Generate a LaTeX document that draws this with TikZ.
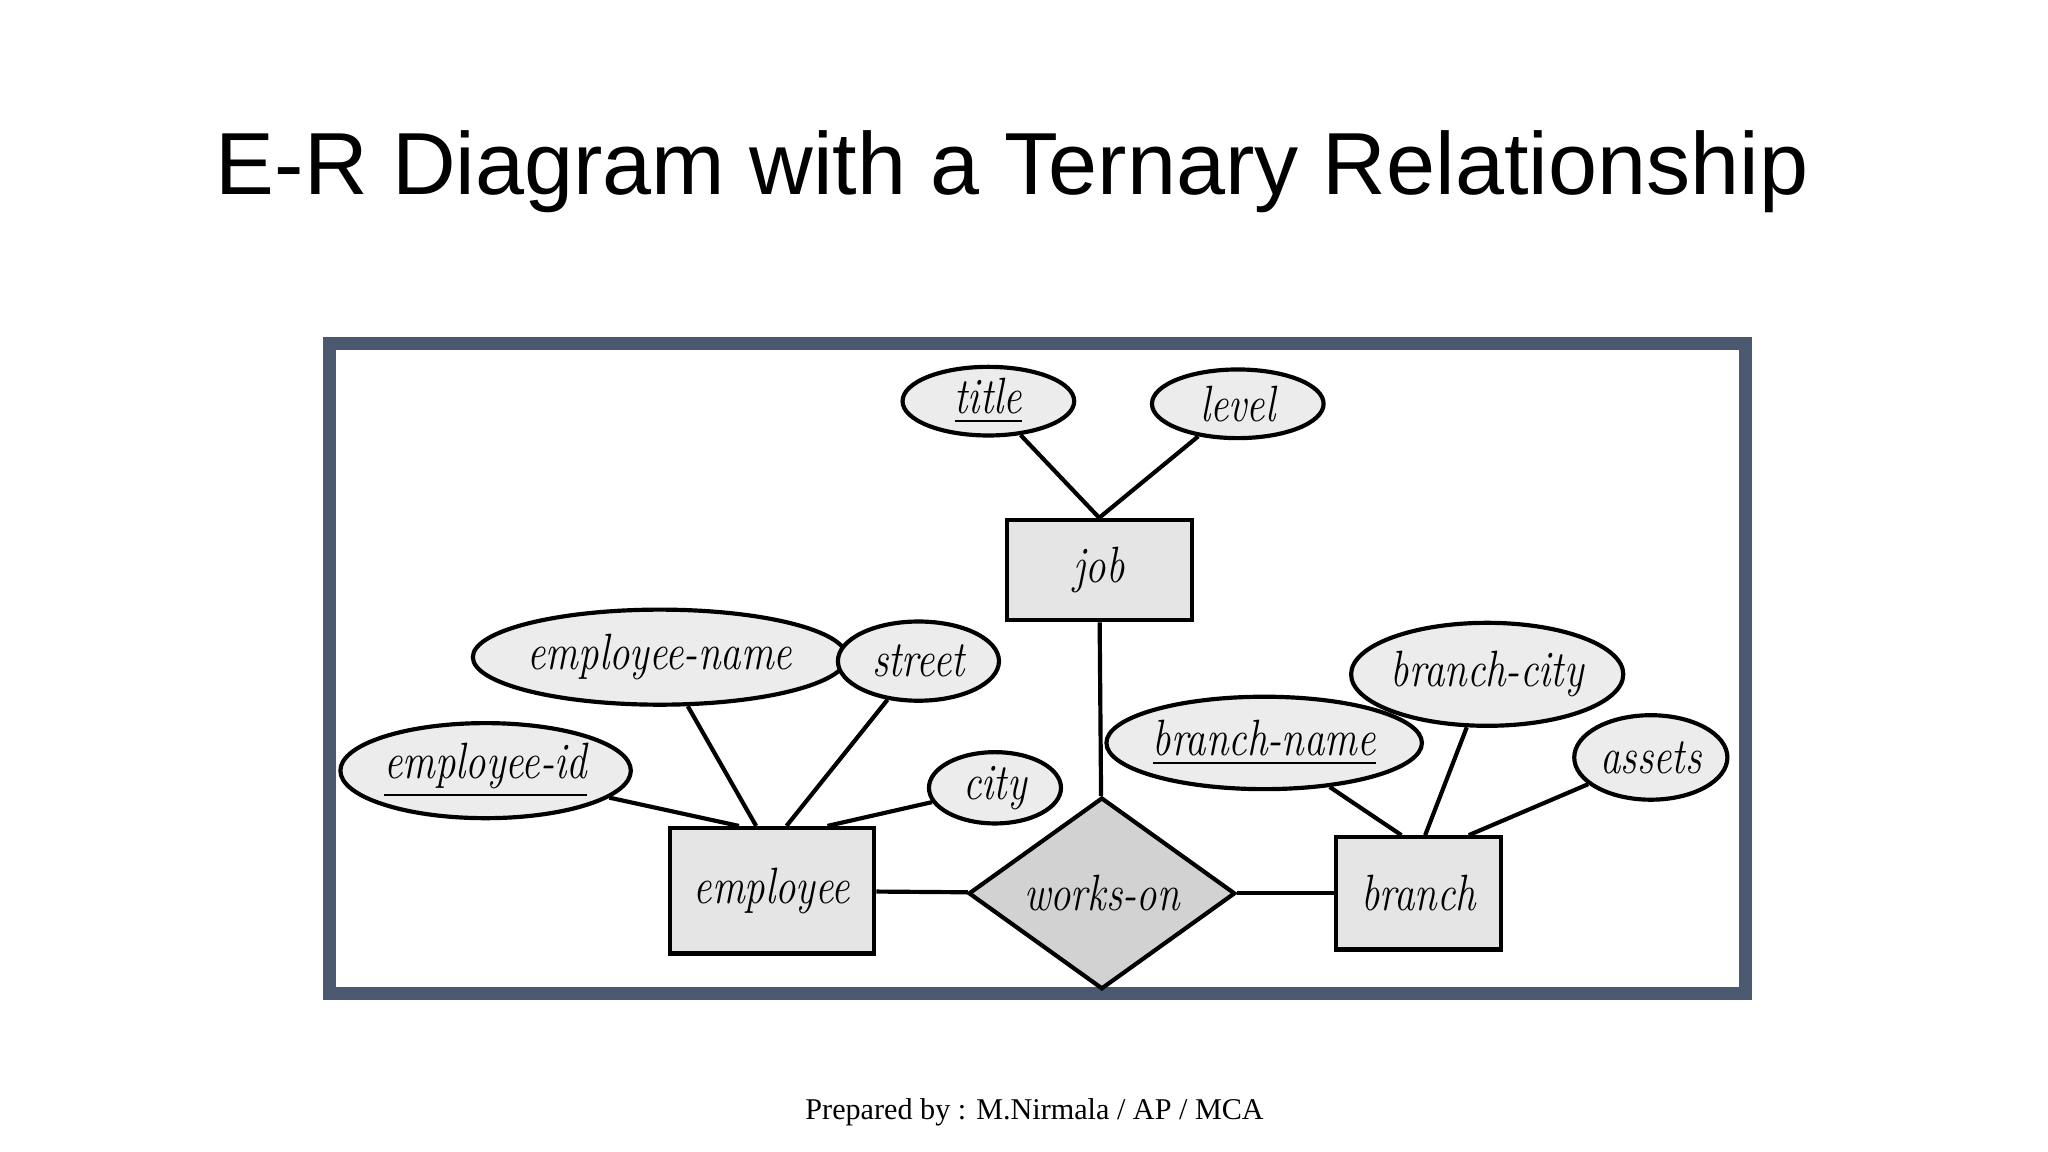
\documentclass[tikz,border=0pt]{standalone}
\usepackage{fontspec}
\usetikzlibrary{shapes.geometric}
\newfontfamily\titlefont{Liberation Sans}
\newfontfamily\footfont{Liberation Serif}
\newcommand\ertxt[1]{\scalebox{0.8}[1]{#1}}
\begin{document}
\begin{tikzpicture}[x=0.01cm,y=-0.01cm,
  attr/.style={ellipse,draw=black,line width=0.9pt,fill=gray!15,inner sep=0pt,font=\fontsize{11}{13}\selectfont\itshape},
  ent/.style={rectangle,draw=black,line width=0.9pt,fill=gray!20,inner sep=0pt,font=\fontsize{11}{13}\selectfont\itshape},
  rel/.style={diamond,draw=black,line width=0.9pt,fill=gray!35,inner sep=0pt,font=\fontsize{11}{13}\selectfont\itshape},
  ln/.style={line width=0.9pt}]
\useasboundingbox (0,0) rectangle (1552,873);
\fill[white] (0,0) rectangle (1552,873);
\node[font=\titlefont\fontsize{19}{22}\selectfont] (title) at (767,130) {E-R Diagram with a Ternary Relationship};
\node[font=\footfont\fontsize{6.5}{8}\selectfont] (foot) at (784,843) {Prepared by : M.Nirmala / AP / MCA};
\draw[line width=2.8pt,draw={rgb,255:red,74;green,88;blue,112}] (250,260) rectangle (1323,753);
% entities
\node[ent,minimum width=140\pgflinewidth,minimum width=1.40cm,minimum height=0.76cm] (job) at (833,432) {\ertxt{job}};
\node[ent,minimum width=1.55cm,minimum height=0.95cm] (emp) at (585,675) {\ertxt{employee}};
\node[ent,minimum width=1.25cm,minimum height=0.85cm] (br) at (1075,677) {\ertxt{branch}};
\node[rel,minimum width=2.02cm,minimum height=1.32cm] (wo) at (835,677) {\ertxt{works-on}};
% attributes
\node[attr,minimum width=1.30cm,minimum height=0.52cm] (ti) at (749,304) {\ertxt{\underline{title}}};
\node[attr,minimum width=1.30cm,minimum height=0.52cm] (le) at (938,306) {\ertxt{level}};
\node[attr,minimum width=2.20cm,minimum height=0.72cm] (en) at (500,498) {\ertxt{employee-name}};
\node[attr,minimum width=1.22cm,minimum height=0.60cm] (st) at (696,501) {\ertxt{street}};
\node[attr,minimum width=2.20cm,minimum height=0.72cm] (ei) at (368,584) {\ertxt{\underline{employee-id}}};
\node[attr,minimum width=1.00cm,minimum height=0.54cm] (ci) at (754,597) {\ertxt{city}};
\node[attr,minimum width=2.08cm,minimum height=0.70cm] (bn) at (958,563) {\ertxt{\underline{branch-name}}};
\node[attr,minimum width=1.80cm,minimum height=0.78cm] (bc) at (1127,511) {\ertxt{branch-city}};
\node[attr,minimum width=1.16cm,minimum height=0.64cm] (as) at (1251,574) {\ertxt{assets}};
% connectors
\draw[ln] (ti) -- (job.north);
\draw[ln] (le) -- (job.north);
\draw[ln] (job) -- (wo);
\draw[ln] (en) -- ([xshift=-0.12cm]emp.north);
\draw[ln] (st) -- ([xshift=0.11cm]emp.north);
\draw[ln] (ei) -- ([xshift=-0.25cm]emp.north);
\draw[ln] (ci) -- ([xshift=0.42cm]emp.north);
\draw[ln] (emp) -- (wo);
\draw[ln] (wo) -- (br);
\draw[ln] (bn) -- ([xshift=-0.13cm]br.north);
\draw[ln] (bc) -- ([xshift=0.05cm]br.north);
\draw[ln] (as) -- ([xshift=0.38cm]br.north);
\end{tikzpicture}
\end{document}
